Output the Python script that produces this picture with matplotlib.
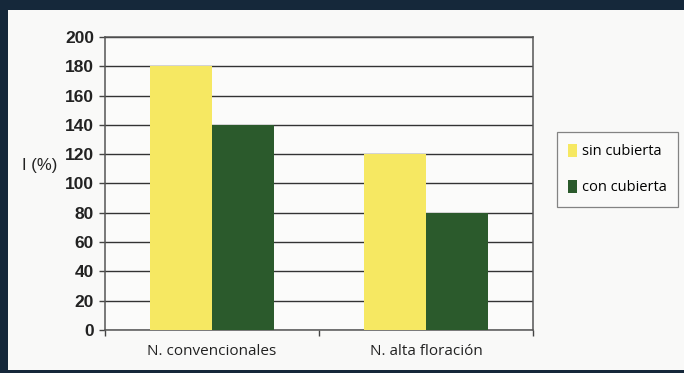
import matplotlib.pyplot as plt
import numpy as np
from matplotlib.patches import Rectangle

categories = ['N. convencionales', 'N. alta floración']
sin_cubierta = [180, 120]
con_cubierta = [140, 80]
yticks = [0, 20, 40, 60, 80, 100, 120, 140, 160, 180, 200]

navy = '#15283a'
yellow = '#f6e862'
green = '#2b5a2c'

fig = plt.figure(figsize=(6.84, 3.73), dpi=100)
fig.patch.set_facecolor('#f9f9f8')

# dark frame around the panel
fig.patches.append(Rectangle((0, 0.973), 1, 0.027, transform=fig.transFigure,
                             facecolor=navy, edgecolor='none'))
fig.patches.append(Rectangle((0, 0), 0.011, 1, transform=fig.transFigure,
                             facecolor=navy, edgecolor='none'))
fig.patches.append(Rectangle((0, 0), 1, 0.008, transform=fig.transFigure,
                             facecolor=navy, edgecolor='none'))

ax = fig.add_axes([0.1535, 0.1153, 0.6255, 0.7855])
ax.set_facecolor('#fbfbfa')

x = np.arange(len(categories))
w = 0.29
ax.bar(x - w / 2, sin_cubierta, w, color=yellow, label='sin cubierta', zorder=3)
ax.bar(x + w / 2, con_cubierta, w, color=green, label='con cubierta', zorder=3)

ax.set_xlim(-0.5, 1.5)
ax.set_ylim(0, 200)
ax.set_yticks(yticks)
ax.set_yticklabels([str(v) for v in yticks], family=['Liberation Sans', 'DejaVu Sans'],
                   fontsize=12.5, fontweight='bold', color='#222222')
ax.yaxis.grid(True, color='#333333', lw=1.0, zorder=1)
ax.tick_params(axis='y', direction='out', length=4, width=1, color='#444444', pad=4)

ax.set_xticks([-0.5, 0.5, 1.5])
ax.set_xticklabels([])
ax.set_xticks(x, minor=True)
ax.set_xticklabels(categories, minor=True, family=['Open Sans', 'DejaVu Sans'],
                   fontsize=11, color='#222222')
ax.tick_params(axis='x', which='major', direction='out', length=4, width=1, color='#444444')
ax.tick_params(axis='x', which='minor', length=0, pad=10)

for side in ['left', 'bottom', 'top', 'right']:
    ax.spines[side].set_color('#555555')
    ax.spines[side].set_linewidth(1.1)

fig.text(0.032, 0.557, 'I (%)', family=['Liberation Sans', 'DejaVu Sans'],
         fontsize=12, color='#222222', va='center', ha='left')

leg = fig.legend(loc='upper left', bbox_to_anchor=(0.814, 0.646), frameon=True,
                 fancybox=False, edgecolor='#666666', facecolor='#fbfbfa',
                 prop={'family': ['Open Sans', 'DejaVu Sans'], 'size': 10.5},
                 handlelength=0.6, handleheight=1.0, handletextpad=0.3,
                 labelspacing=1.4, borderpad=0.8, borderaxespad=0)
leg.get_frame().set_linewidth(0.9)

fig.savefig('out.png', dpi=100, facecolor=fig.get_facecolor())
